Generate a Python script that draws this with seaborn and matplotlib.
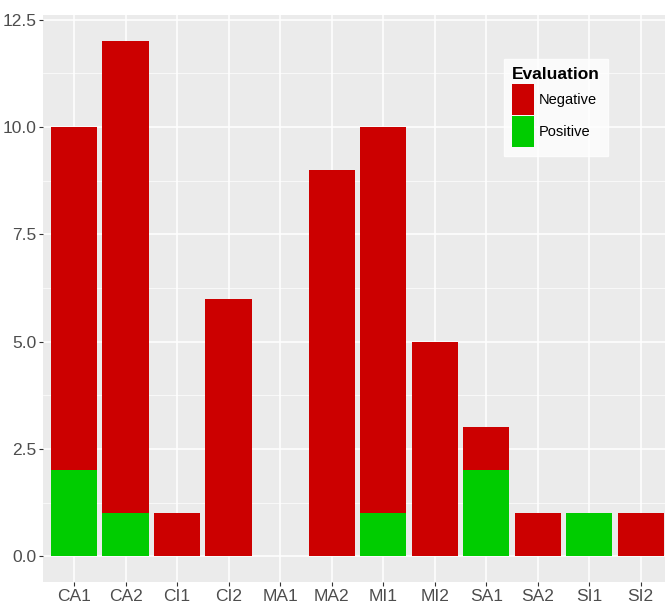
import numpy as np
import pandas as pd
import seaborn as sns
import matplotlib.pyplot as plt
from matplotlib.patches import Patch
from matplotlib.ticker import MultipleLocator

groups = ['CA1', 'CA2', 'CI1', 'CI2', 'MA1', 'MA2', 'MI1', 'MI2', 'SA1', 'SA2', 'SI1', 'SI2']
negative = [8, 11, 1, 6, 0, 9, 9, 5, 1, 1, 0, 1]
positive = [2, 1, 0, 0, 0, 0, 1, 0, 2, 0, 1, 0]

red = '#CC0000'
green = '#00CC00'

df = pd.DataFrame({'group': groups, 'Negative': negative, 'Positive': positive})
df['total'] = df['Negative'] + df['Positive']

plt.rcParams['font.family'] = ['Liberation Sans', 'DejaVu Sans']
fig = plt.figure(figsize=(6.65, 6.12), dpi=100)
ax = fig.add_axes([0.065, 0.049, 0.945, 0.926])
ax.set_facecolor('#EBEBEB')

# stacked: full height in red, positive part painted over in green
sns.barplot(data=df, x='group', y='total', color=red, width=0.9, saturation=1, ax=ax, zorder=3)
sns.barplot(data=df, x='group', y='Positive', color=green, width=0.9, saturation=1, ax=ax, zorder=4)

ax.set_xlim(-0.6, 11.6)
ax.set_ylim(-0.6, 12.6)
ax.yaxis.set_major_locator(MultipleLocator(2.5))
ax.yaxis.set_minor_locator(MultipleLocator(1.25))
ax.set_yticks([0, 2.5, 5, 7.5, 10, 12.5])
ax.set_yticklabels(['0.0', '2.5', '5.0', '7.5', '10.0', '12.5'])
ax.grid(which='major', color='white', linewidth=1.1, zorder=0)
ax.grid(which='minor', axis='y', color='white', linewidth=0.5, zorder=0)
ax.set_axisbelow(True)
for s in ax.spines.values():
    s.set_visible(False)
ax.tick_params(which='major', length=3, color='#333333', labelsize=12.5, labelcolor='#4D4D4D', pad=2)
ax.tick_params(which='minor', length=0)
ax.set_xlabel('')
ax.set_ylabel('')

handles = [Patch(facecolor=red, label='Negative'), Patch(facecolor=green, label='Positive')]
leg = ax.legend(handles=handles, title='Evaluation', loc='upper left',
                bbox_to_anchor=(0.722, 0.935), frameon=True, fancybox=False,
                fontsize=10.5, title_fontsize=12.5, handlelength=1.5, handleheight=2.9,
                handletextpad=0.3, labelspacing=0.1, borderpad=0.55)
leg.get_title().set_fontweight('bold')
leg.get_frame().set_facecolor('white')
leg.get_frame().set_edgecolor('white')
leg._legend_box.align = 'left'

fig.savefig('out.png', dpi=100)
